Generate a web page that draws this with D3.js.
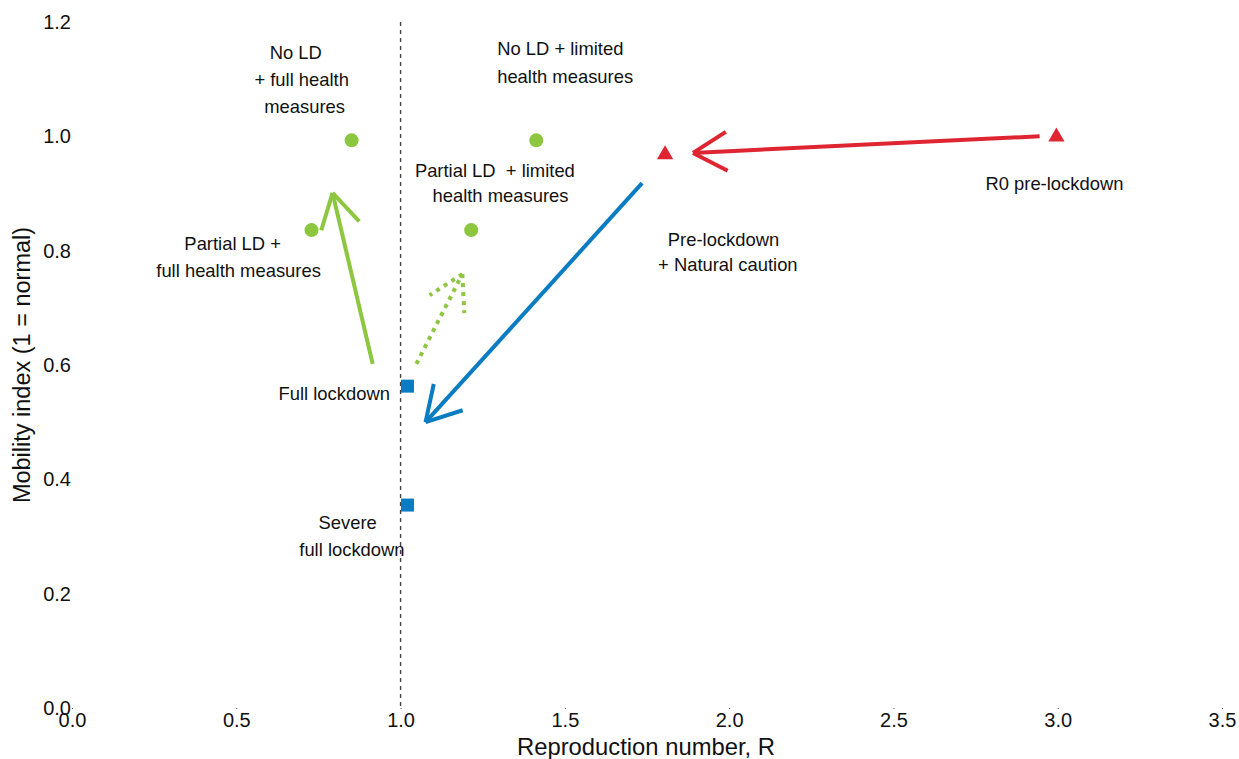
<!DOCTYPE html>
<html><head><meta charset="utf-8">
<script src="https://cdn.jsdelivr.net/npm/d3@7"></script>
<style>
html,body{margin:0;padding:0;background:#fff;}
text{font-family:"Liberation Sans",Arial,sans-serif;fill:#111;}
</style></head>
<body><svg id="chart" width="1239" height="759"></svg>
<script>
// ---- data ----
const xTicks = [0, 0.5, 1.0, 1.5, 2.0, 2.5, 3.0, 3.5];
const yTicks = [0, 0.2, 0.4, 0.6, 0.8, 1.0, 1.2];
const greenPoints = [[0.851, 0.993], [1.413, 0.993], [0.729, 0.836], [1.215, 0.836]];
const redPoints = [[1.805, 0.968], [2.996, 0.999]];
const bluePoints = [[1.021, 0.563], [1.021, 0.355]];
const threshold = 1.0;
const arrows = [
  {from: [2.945, 1.000], to: [1.890, 0.971], color: "red", dotted: false},
  {from: [1.735, 0.918], to: [1.076, 0.500], color: "blue", dotted: false},
  {from: [0.915, 0.602], to: [0.793, 0.901], color: "green", dotted: false},
  {from: [1.048, 0.602], to: [1.188, 0.759], color: "green", dotted: true}
];
const labels = [
  {t: "No LD", x: 0.681, y: 1.146},
  {t: "+ full health", x: 0.699, y: 1.100},
  {t: "measures", x: 0.708, y: 1.053},
  {t: "No LD + limited", x: 1.294, y: 1.153, a: "start"},
  {t: "health measures", x: 1.294, y: 1.105, a: "start"},
  {t: "Partial LD\u00a0 + limited", x: 1.287, y: 0.941},
  {t: "health measures", x: 1.304, y: 0.897},
  {t: "Partial LD +", x: 0.489, y: 0.813},
  {t: "full health measures", x: 0.507, y: 0.766},
  {t: "Pre-lockdown", x: 1.983, y: 0.820},
  {t: "+ Natural caution", x: 1.996, y: 0.775},
  {t: "R0 pre-lockdown", x: 2.990, y: 0.918},
  {t: "Full lockdown", x: 0.798, y: 0.551},
  {t: "Severe", x: 0.839, y: 0.324},
  {t: "full lockdown", x: 0.852, y: 0.278}
];
const colors = {green: "#8DC63F", red: "#DF2531", blue: "#0A7CC1"};

// ---- chart ----
const svg = d3.select("#chart");
const x = d3.scaleLinear().domain([0, 3.5]).range([72, 1222]);
const y = d3.scaleLinear().domain([0, 1.2]).range([708, 22]);

// x axis
const xa = svg.append("g").attr("transform", "translate(0,708)")
  .call(d3.axisBottom(x).tickValues(xTicks).tickFormat(d3.format(".1f")).tickSize(1).tickPadding(4));
xa.select(".domain").remove();
xa.selectAll("line").attr("stroke", "#555");
xa.selectAll("text").style("font-size", "20px").attr("fill", "#111");

// y axis
const ya = svg.append("g").attr("transform", "translate(72,0)")
  .call(d3.axisLeft(y).tickValues(yTicks).tickFormat(d3.format(".1f")).tickSize(0).tickPadding(1));
ya.select(".domain").remove();
ya.selectAll("text").style("font-size", "20px").attr("fill", "#111");

svg.append("text").attr("x", 646).attr("y", 746).attr("text-anchor", "middle")
  .attr("dominant-baseline", "central").style("font-size", "23.8px").text("Reproduction number, R");
svg.append("text").attr("transform", "translate(22,365) rotate(-90)").attr("text-anchor", "middle")
  .attr("dominant-baseline", "central").style("font-size", "23.5px").text("Mobility index (1 = normal)");

// threshold line
svg.append("line").attr("x1", x(threshold)).attr("x2", x(threshold)).attr("y1", y(1.2)).attr("y2", y(0))
  .attr("stroke", "#444").attr("stroke-width", 1.4).attr("stroke-dasharray", "4,4");

// arrows
arrows.forEach(a => {
  const x0 = x(a.from[0]), y0 = y(a.from[1]), x1 = x(a.to[0]), y1 = y(a.to[1]);
  const ang = Math.atan2(y0 - y1, x0 - x1);
  const L = 39, da = Math.PI / 6;
  const g = svg.append("g").attr("stroke", colors[a.color]).attr("stroke-width", 4).attr("fill", "none");
  const dash = a.dotted ? "4,5" : null;
  g.append("line").attr("x1", x0).attr("y1", y0).attr("x2", x1).attr("y2", y1).attr("stroke-dasharray", dash);
  [ang - da, ang + da].forEach(t => {
    g.append("line").attr("x1", x1).attr("y1", y1)
      .attr("x2", x1 + L * Math.cos(t)).attr("y2", y1 + L * Math.sin(t)).attr("stroke-dasharray", dash);
  });
});

// points
svg.selectAll(".gp").data(greenPoints).enter().append("circle")
  .attr("cx", d => x(d[0])).attr("cy", d => y(d[1])).attr("r", 7).attr("fill", colors.green);
svg.selectAll(".rp").data(redPoints).enter().append("path")
  .attr("d", d3.symbol().type(d3.symbolTriangle).size(115))
  .attr("transform", d => `translate(${x(d[0])},${y(d[1])})`).attr("fill", colors.red);
svg.selectAll(".bp").data(bluePoints).enter().append("rect")
  .attr("x", d => x(d[0]) - 6.5).attr("y", d => y(d[1]) - 6.5).attr("width", 13).attr("height", 13)
  .attr("fill", colors.blue);

// labels
svg.selectAll(".lbl").data(labels).enter().append("text")
  .attr("x", d => x(d.x)).attr("y", d => y(d.y)).attr("text-anchor", d => d.a || "middle")
  .attr("dominant-baseline", "central").style("font-size", "18.4px").text(d => d.t);
</script></body></html>
